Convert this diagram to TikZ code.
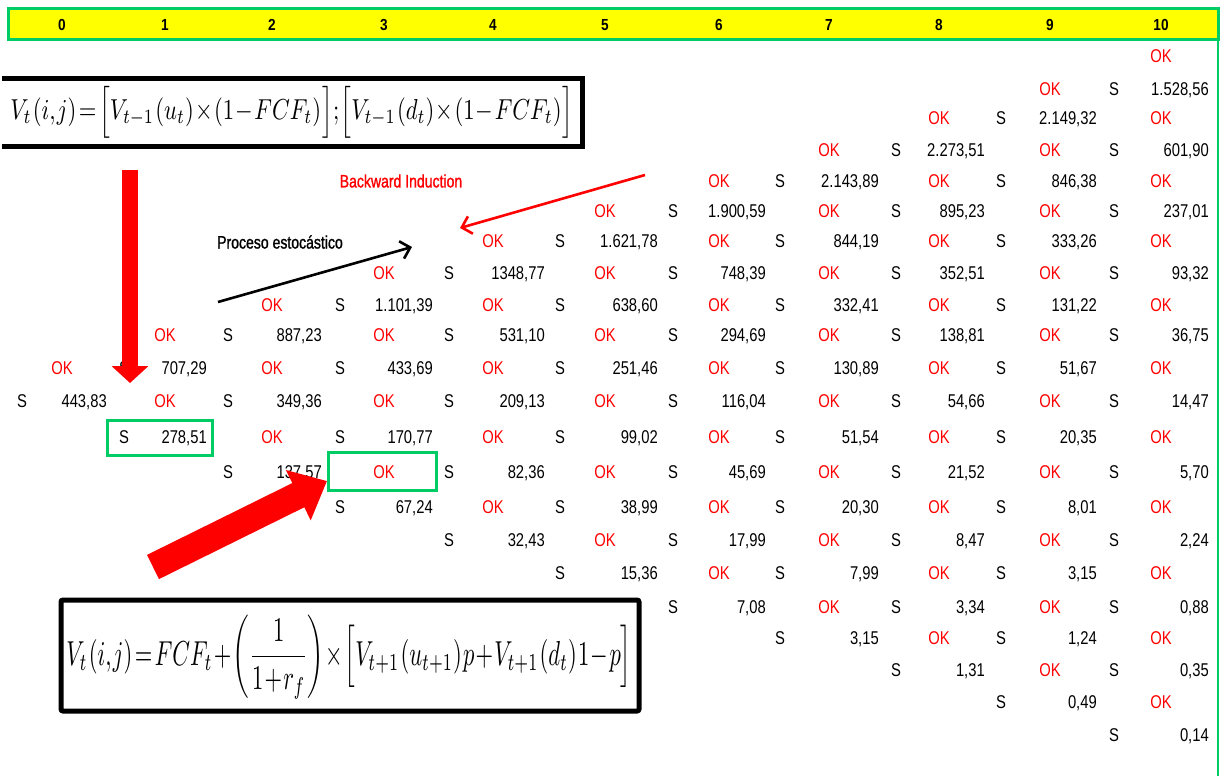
\documentclass[tikz,border=0pt]{standalone}
\usepackage{fontspec}
\usepackage{graphicx}
\setmainfont{Liberation Sans}
\newfontfamily\cellfont[FakeStretch=0.8]{Liberation Sans}
\newfontfamily\headfont[FakeStretch=0.85]{Liberation Sans}
\newfontfamily\lblfont[FakeStretch=0.78,FakeBold=1.2]{Liberation Sans}
\usetikzlibrary{arrows.meta}
\definecolor{xlgreen}{RGB}{0,204,102}
\definecolor{xlyellow}{RGB}{255,255,0}
\definecolor{xlred}{RGB}{255,0,0}
\newcommand{\tightmath}{\thinmuskip=1mu\medmuskip=1mu\thickmuskip=2mu}
\begin{document}
\begin{tikzpicture}[x=1pt,y=-1pt,
 cellbase/.style={inner sep=0pt, text height=13.3pt, text depth=0pt, font=\cellfont\fontsize{18.5}{20}\selectfont},
 okcell/.style={cellbase, text=xlred, anchor=center},
 scell/.style={cellbase, anchor=center},
 vcell/.style={cellbase, anchor=east},
 hdr/.style={inner sep=0pt, text height=11.5pt, text depth=0pt, font=\headfont\bfseries\fontsize{16}{18}\selectfont},
 greenbox/.style={draw=xlgreen, line width=3pt, inner sep=0pt},
 lbl/.style={inner sep=0pt, font=\lblfont\fontsize{18}{20}\selectfont},
 fatarrow/.style={draw=xlred, line cap=butt},
 thinarrow/.style={line width=2.6pt, -{Straight Barb[length=9pt,width=18pt]}},
 framebox/.style={draw=black, line width=5pt}
]
\useasboundingbox (0,0) rectangle (1224,776);
\fill[white] (0,0) rectangle (1224,776);

% header band
\draw[xlgreen, line width=3pt, fill=xlyellow] (8,9) rectangle (1218,40);
\draw[xlgreen, line width=2pt] (1218,40) -- (1218,776);

\def\SX{{22,124,228,340,449,560,673,780,896,1001,1114}}
\def\VX{{107,207,322,433,545,658,766,879,985,1097,1209}}
\def\OX{{62,165,272,384,493,605,719,829,939,1050,1161}}
\def\RY{{0,56,89,118,150,181,211,241,273,305,335,368,401,437,472,507,540,573,607,638,670,702,735}}

\foreach \c in {0,...,10} {
  \pgfmathsetmacro{\xo}{\OX[\c]}
  \node[hdr] (h-\c) at (\xo,25) {\c};
}

% OK cells
\foreach \c in {0,...,10} {
  \pgfmathsetmacro{\xo}{\OX[\c]}
  \foreach \k in {0,...,\c} {
    \pgfmathtruncatemacro{\r}{11-\c+2*\k}
    \pgfmathsetmacro{\yy}{\RY[\r]}
    \node[okcell] (ok-\c-\r) at (\xo,\yy) {OK};
  }
}

% value cells
\foreach \c/\r/\v in {
 10/2/{1.528,56}, 10/4/{601,90}, 10/6/{237,01}, 10/8/{93,32}, 10/10/{36,75}, 10/12/{14,47}, 10/14/{5,70}, 10/16/{2,24}, 10/18/{0,88}, 10/20/{0,35}, 10/22/{0,14},
 9/3/{2.149,32}, 9/5/{846,38}, 9/7/{333,26}, 9/9/{131,22}, 9/11/{51,67}, 9/13/{20,35}, 9/15/{8,01}, 9/17/{3,15}, 9/19/{1,24}, 9/21/{0,49},
 8/4/{2.273,51}, 8/6/{895,23}, 8/8/{352,51}, 8/10/{138,81}, 8/12/{54,66}, 8/14/{21,52}, 8/16/{8,47}, 8/18/{3,34}, 8/20/{1,31},
 7/5/{2.143,89}, 7/7/{844,19}, 7/9/{332,41}, 7/11/{130,89}, 7/13/{51,54}, 7/15/{20,30}, 7/17/{7,99}, 7/19/{3,15},
 6/6/{1.900,59}, 6/8/{748,39}, 6/10/{294,69}, 6/12/{116,04}, 6/14/{45,69}, 6/16/{17,99}, 6/18/{7,08},
 5/7/{1.621,78}, 5/9/{638,60}, 5/11/{251,46}, 5/13/{99,02}, 5/15/{38,99}, 5/17/{15,36},
 4/8/{1348,77}, 4/10/{531,10}, 4/12/{209,13}, 4/14/{82,36}, 4/16/{32,43},
 3/9/{1.101,39}, 3/11/{433,69}, 3/13/{170,77}, 3/15/{67,24},
 2/10/{887,23}, 2/12/{349,36}, 2/14/{137,57},
 1/11/{707,29}, 1/13/{278,51},
 0/12/{443,83}} {
  \pgfmathsetmacro{\xs}{\SX[\c]}
  \pgfmathsetmacro{\xv}{\VX[\c]}
  \pgfmathsetmacro{\yy}{\RY[\r]}
  \node[scell] (s-\c-\r) at (\xs,\yy) {S};
  \node[vcell] (v-\c-\r) at (\xv,\yy) {\v};
}

% highlighted cells
\node[greenbox, minimum width=105pt, minimum height=35pt] (box1) at (159.5,437.5) {};
\node[greenbox, minimum width=108pt, minimum height=38pt] (box2) at (382,471) {};

% formula boxes
\draw[framebox] (2,79) -- (582,79) -- (582,146) -- (2,146);
\node[inner sep=0pt] (f1) at (292,112) {\resizebox*{563pt}{52pt}{$\tightmath V_t\left(i,j\right)=\Big[V_{t-1}\left(u_t\right)\times\left(1-FCF_t\right)\Big];\Big[V_{t-1}\left(d_t\right)\times\left(1-FCF_t\right)\Big]$}};
\draw[framebox, rounded corners=2pt] (61,600) rectangle (639,711);
\node[inner sep=0pt] (f2) at (349,657) {\resizebox*{565pt}{84pt}{$\displaystyle\tightmath V_t\left(i,j\right)=FCF_t+\left(\frac{1}{1+r_f}\right)\times\Big[V_{t+1}\left(u_{t+1}\right)p+V_{t+1}\left(d_t\right)1-p\Big]$}};

% labels
\node[lbl, text=xlred] (lbw) at (401,181) {Backward Induction};
\node[lbl] (lpe) at (280,242) {Proceso estocástico};

% arrows
\coordinate (dtop) at (130,170);
\coordinate (dtip) at (130,383);
\coordinate (gtail) at (153,567);
\coordinate (gtip) at (327,481);
\coordinate (ptail) at (218,302);
\coordinate (ptip) at (412,247);
\coordinate (btail) at (645,175);
\coordinate (btip) at (460,228);

\draw[fatarrow, line width=16pt, -{Triangle[width=36pt,length=17pt]}] (dtop) -- (dtip);
\draw[fatarrow, line width=27pt, -{Triangle[width=54pt,length=32pt]}] (gtail) -- (gtip);
\draw[thinarrow, black] (ptail) -- (ptip);
\draw[thinarrow, xlred] (btail) -- (btip);
\end{tikzpicture}
\end{document}
